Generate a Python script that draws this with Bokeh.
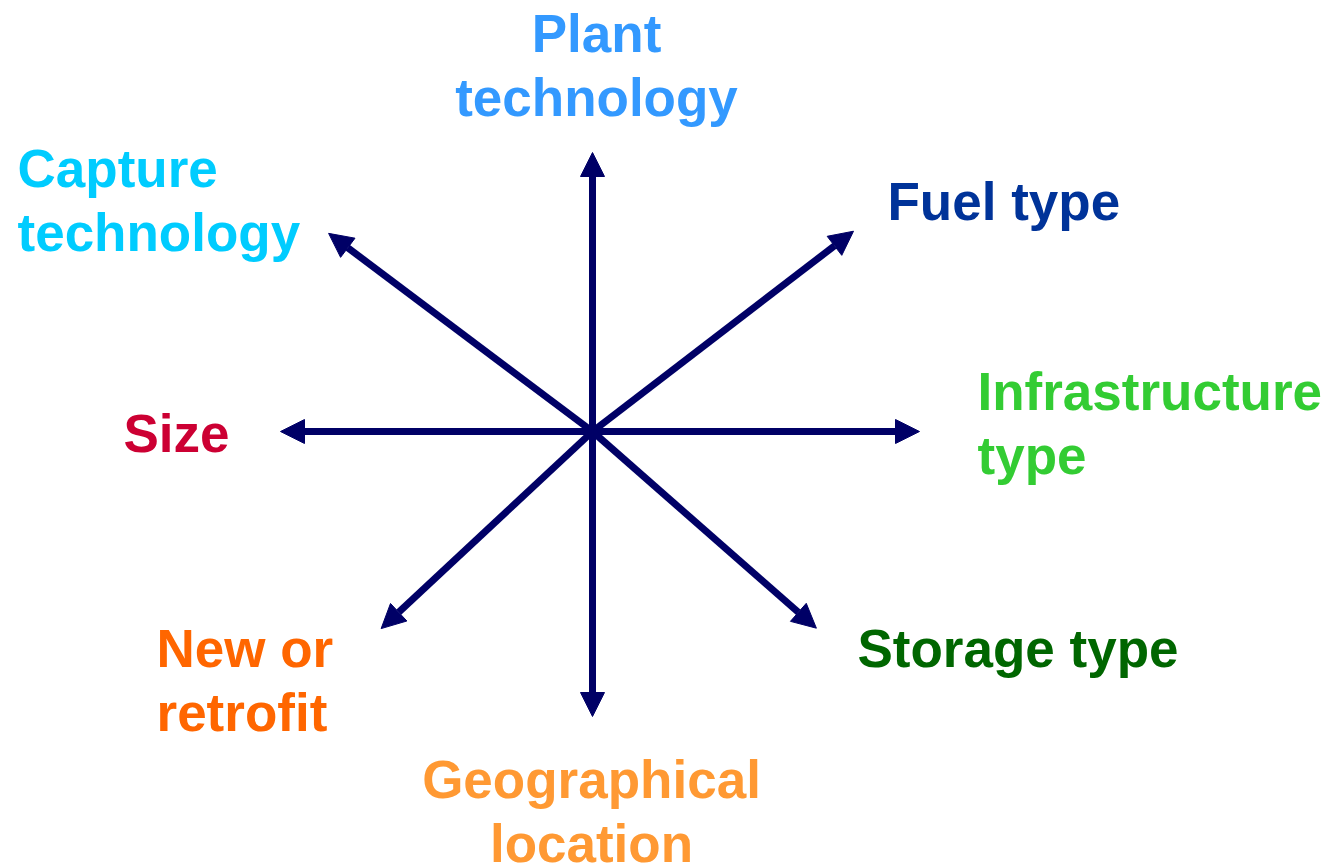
import math
from bokeh.plotting import figure
from bokeh.models import Range1d, Arrow, NormalHead, ColumnDataSource
from bokeh.core.properties import value
from bokeh.embed import file_html
from bokeh.resources import INLINE

# ---- data ----
center = (592, 431)
arrow_angles = [90, 37.5, 0, -41.3, -90, -137.0, 180, 143.1]   # degrees
arrow_lengths = [279, 329, 327, 298, 285, 289, 312, 330]       # px
arrow_color = "#000066"

labels = ["Plant\ntechnology", "Fuel type", "Infrastructure\ntype", "Storage type",
          "Geographical\nlocation", "New or\nretrofit", "Size", "Capture\ntechnology"]
label_colors = ["#3399FF", "#003399", "#33CC33", "#006600",
                "#FF9933", "#FF6600", "#CC0033", "#00CCFF"]
label_x = [596, 887, 977, 857, 591, 156, 123, 17]
label_y = [33, 201, 391, 648, 779, 648, 433, 168]      # first-line vertical middle
label_align = ["center", "left", "left", "left", "center", "left", "left", "left"]
line_step = 64

W, H = 1327, 864
p = figure(width=W, height=H, output_backend="svg", toolbar_location=None,
           x_range=Range1d(0, W), y_range=Range1d(H, 0),
           min_border=0)
p.axis.visible = False
p.grid.visible = False
p.outline_line_color = None
p.background_fill_color = "white"
p.border_fill_color = "white"

cx, cy = center
for ang, ln in zip(arrow_angles, arrow_lengths):
    r = math.radians(ang)
    x_end = cx + ln * math.cos(r)
    y_end = cy - ln * math.sin(r)
    p.add_layout(Arrow(x_start=cx, y_start=cy, x_end=x_end, y_end=y_end,
                       line_color=arrow_color, line_width=7,
                       end=NormalHead(size=24, fill_color=arrow_color,
                                      line_color=arrow_color, line_width=1)))

xs, ys, ts, cs, als = [], [], [], [], []
for lab, col, x, y, al in zip(labels, label_colors, label_x, label_y, label_align):
    for i, line in enumerate(lab.split("\n")):
        xs.append(x)
        ys.append(y + i * line_step)
        ts.append(line)
        cs.append(col)
        als.append(al)

src = ColumnDataSource(dict(x=xs, y=ys, text=ts, color=cs, align=als))
p.text(x="x", y="y", text="text", source=src, text_color="color",
       text_align="align", text_baseline="middle",
       text_font=value("Liberation Sans"), text_font_style="bold",
       text_font_size="53px")

open("out.html", "w").write(file_html(p, INLINE))
